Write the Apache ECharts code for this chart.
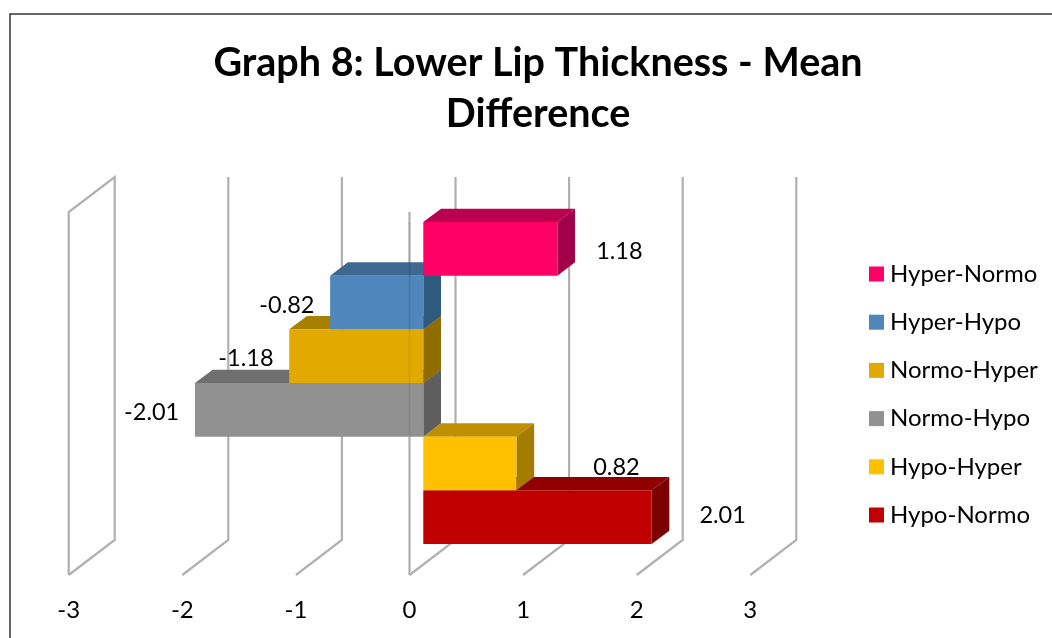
<!DOCTYPE html>
<html>
<head>
<meta charset="utf-8">
<style>html,body{margin:0;padding:0;background:#fff}#c{width:1052px;height:638px}</style>
<script src="https://cdn.jsdelivr.net/npm/echarts@6/dist/echarts.min.js"></script>
</head>
<body>
<div id="c"></div>
<script>
const titleText = 'Graph 8: Lower Lip Thickness - Mean\nDifference';
const categories = ['Hyper-Normo','Hyper-Hypo','Normo-Hyper','Normo-Hypo','Hypo-Hyper','Hypo-Normo'];
const values = [1.18,-0.82,-1.18,-2.01,0.82,2.01];
const valueLabels = ['1.18','-0.82','-1.18','-2.01','0.82','2.01'];
const xTicks = [-3,-2,-1,0,1,2,3];
const frontColors = ['#FF0066','#4F86BC','#E2AA00','#919191','#FFC000','#C00000'];
const topColors = ['#BB0050','#3D6890','#A88000','#6F6F6F','#BE9000','#900000'];
const sideColors = ['#A3004A','#2F5A7E','#8F6D00','#5E5E5E','#A37C00','#7B0000'];

// layout, in pixels
const labelDX = [62,-43.3,-43.3,-43.3,100,71];
const labelDY = [2.5,3,2.5,2.5,3.5,-1.5];
const FONT = 'Lato';
const barShift = 13.8, depthX = 17.7, depthY = 13.3;
const wallX = 46, wallY = 35, floorDrop = 31, wallRise = 10;
const lineCol = '#b0b0b0';

function poly(pts, fill){
  return {type:'polygon', shape:{points:pts}, style:{fill:fill}, silent:true};
}
function barItem(i){
  return function(params, api){
    const p0 = api.coord([0, i]);
    const p1 = api.coord([values[i], i]);
    const h = api.size([0,1])[1];
    const x0 = p0[0] + barShift, x1 = p1[0] + barShift;
    const yt = p0[1] - h/2, yb = p0[1] + h/2;
    const L = Math.min(x0,x1), R = Math.max(x0,x1);
    const endX = x1;
    return {type:'group', children:[
      poly([[L,yt],[L+depthX,yt-depthY],[R+depthX,yt-depthY],[R,yt]], topColors[i]),
      poly([[R,yt],[R+depthX,yt-depthY],[R+depthX,yb-depthY],[R,yb]], sideColors[i]),
      {type:'rect', shape:{x:L,y:yt,width:R-L,height:yb-yt}, style:{fill:frontColors[i]}, silent:true},
      {type:'text', x:endX+labelDX[i], y:p0[1]+labelDY[i], z2:50, silent:true,
        style:{text:valueLabels[i], fill:'#000', font:'23.5px '+FONT, align:'center', verticalAlign:'middle'}}
    ]};
  };
}
function wallItem(params, api){
  const v = xTicks[params.dataIndex];
  const cs = params.coordSys;
  const x = api.coord([v, 0])[0];
  const fb = cs.y + cs.height + floorDrop;
  const ft = cs.y - wallRise;
  const pts = [[x,fb],[x+wallX,fb-wallY],[x+wallX,ft-wallY]];
  const children = [];
  if (v === xTicks[0]) pts.push([x,ft],[x,fb]);
  children.push({type:'polyline', shape:{points:pts}, style:{stroke:lineCol, lineWidth:2.2, fill:null}, silent:true});
  if (v === 0) children.push({type:'line', shape:{x1:x,y1:ft,x2:x,y2:fb}, style:{stroke:lineCol,lineWidth:2.2}, silent:true});
  return {type:'group', children};
}
function zeroOverlay(params, api){
  const cs = params.coordSys;
  const x = api.coord([0, 0])[0];
  return {type:'line', shape:{x1:x,y1:cs.y,x2:x,y2:cs.y+cs.height*0.66}, style:{stroke:'#000',lineWidth:2,opacity:0.07}, silent:true};
}

const series = [{type:'custom', name:'walls', renderItem:wallItem, data:xTicks.map(v=>[v,0]), encode:{x:0,y:1}, silent:true, z:1}];
for (let i = categories.length-1; i >= 0; i--) {
  series.push({type:'custom', name:categories[i], renderItem:barItem(i),
    data:[[values[i], i]], encode:{x:0,y:1}, itemStyle:{color:frontColors[i]}, silent:true, z:2});
}
series.push({type:'custom', name:'zero', renderItem:zeroOverlay, data:[[0,0]], encode:{x:0,y:1}, silent:true, z:3});

const chart = echarts.init(document.getElementById('c'), null, {renderer:'canvas'});
chart.setOption({
  animation:false,
  backgroundColor:'#fff',
  title:{text:titleText, left:533, top:32.5, textAlign:'center',
    textStyle:{fontFamily:FONT, fontWeight:'bold', fontSize:39.5, lineHeight:51, color:'#000'}},
  legend:{data:categories, orient:'vertical', left:869, top:262, itemWidth:15, itemHeight:15, itemGap:24.2,
    icon:'rect', selectedMode:false, padding:0,
    textStyle:{fontFamily:FONT, fontSize:24, color:'#000', padding:[0,0,0,1]}},
  grid:{left:68.7, top:222, width:681.6, height:322, containLabel:false},
  xAxis:{type:'value', min:-3, max:3, interval:1, position:'bottom', offset:31,
    axisLine:{show:false}, axisTick:{show:false}, splitLine:{show:false},
    axisLabel:{fontFamily:FONT, fontSize:24, color:'#000', margin:23}},
  yAxis:{type:'category', data:categories, inverse:true, show:false},
  series:series,
  graphic:[{type:'rect', shape:{x:10,y:14,width:1200,height:800}, style:{fill:null, stroke:'#333', lineWidth:1.5}, silent:true, z:0}]
});
</script>
</body>
</html>
